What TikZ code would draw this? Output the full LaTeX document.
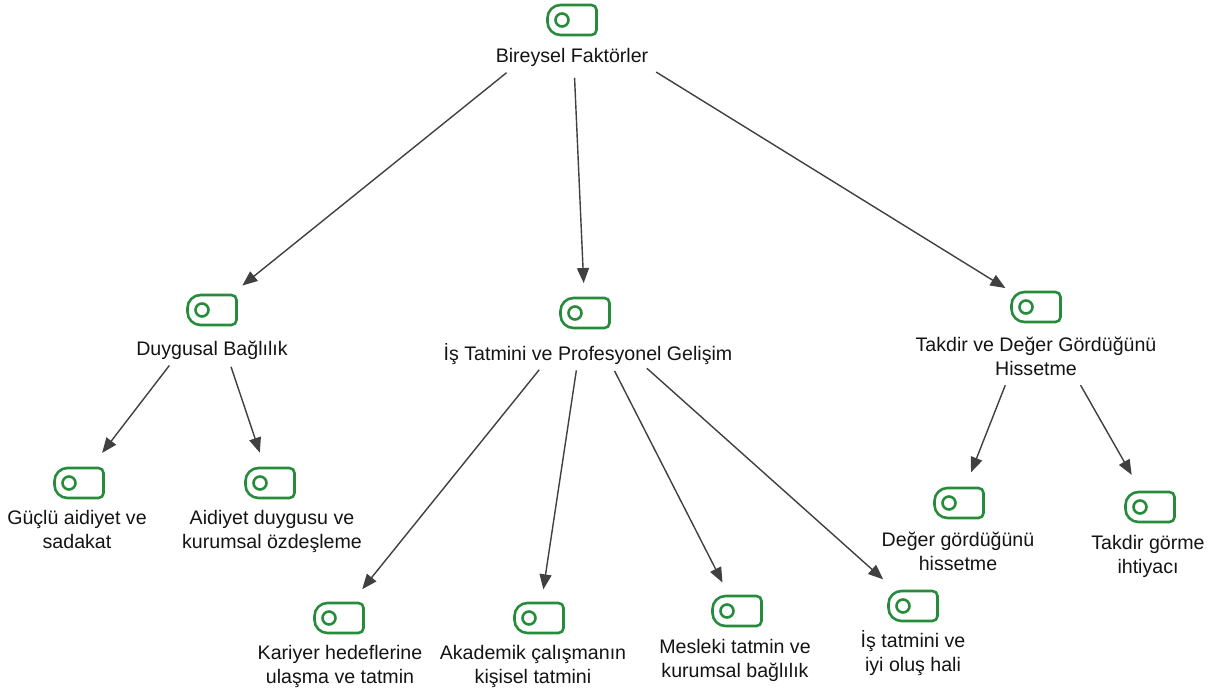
\documentclass[tikz,border=0pt]{standalone}
\usepackage{fontspec}
\setmainfont{Liberation Sans}
\usetikzlibrary{arrows.meta}
\definecolor{iconGreen}{RGB}{38,140,60}
\definecolor{edgeGray}{RGB}{64,64,64}
\definecolor{txt}{RGB}{20,20,20}
\begin{document}
\begin{tikzpicture}[x=1pt,y=-1pt,
  lbl/.style={font=\fontsize{19.6}{23.5}\selectfont, text=txt, align=center, inner sep=0pt, anchor=base},
  icon/.style={minimum width=58pt, minimum height=38pt, inner sep=0pt,
    path picture={
      \begin{scope}[shift={(path picture bounding box.center)}, x=1pt, y=1pt,
                    line width=2.6pt, draw=iconGreen, line join=round]
        \draw (-11.5,-15) -- (19.5,-15) arc[start angle=-90,end angle=0,radius=5]
              -- (24.5,10) arc[start angle=0,end angle=90,radius=5]
              -- (-11.5,15) arc[start angle=90,end angle=180,radius=13]
              -- (-24.5,-2) arc[start angle=180,end angle=270,radius=13] -- cycle;
        \draw (-10,0) circle[radius=6.5];
      \end{scope}}},
  arr/.style={draw=edgeGray, line width=1.4pt, -{Triangle[length=15pt,width=12pt]}}]
\useasboundingbox[fill=white] (0,0) rectangle (1226,695);

% root
\node[icon] (rI) at (572,20) {};
\node[lbl] (rT) at (572,63) {Bireysel Faktörler};

% second level (multi-line labels are placed by the baseline of their last line)
\node[icon] (dI) at (212,310) {};
\node[lbl] (dT) at (212,355) {Duygusal Bağlılık};
\node[icon] (iI) at (585,313) {};
\node[lbl] (iT) at (588,360) {İş Tatmini ve Profesyonel Gelişim};
\node[icon] (tI) at (1036,307) {};
\node[lbl] (tT) at (1036,375) {Takdir ve Değer Gördüğünü\\Hissetme};

% third level
\node[icon] (gI) at (79,483) {};
\node[lbl] (gT) at (77,548) {Güçlü aidiyet ve\\sadakat};
\node[icon] (aI) at (270,483) {};
\node[lbl] (aT) at (272,548) {Aidiyet duygusu ve\\kurumsal özdeşleme};
\node[icon] (kI) at (339,618) {};
\node[lbl] (kT) at (340,683) {Kariyer hedeflerine\\ulaşma ve tatmin};
\node[icon] (akI) at (539,618) {};
\node[lbl] (akT) at (533,683) {Akademik çalışmanın\\kişisel tatmini};
\node[icon] (mI) at (737,611) {};
\node[lbl] (mT) at (735,677) {Mesleki tatmin ve\\kurumsal bağlılık};
\node[icon] (itI) at (913,606) {};
\node[lbl] (itT) at (913,671) {İş tatmini ve\\iyi oluş hali};
\node[icon] (dgI) at (959,503) {};
\node[lbl] (dgT) at (958,570) {Değer gördüğünü\\hissetme};
\node[icon] (tgI) at (1150,507) {};
\node[lbl] (tgT) at (1148,573) {Takdir görme\\ihtiyacı};

% connectors
\draw[arr, shorten <=84pt, shorten >=39pt] (rI.center) -- (dI.center);
\draw[arr, shorten <=58pt, shorten >=30pt] (rI.center) -- (iI.center);
\draw[arr, shorten <=99pt, shorten >=36pt] (rI.center) -- (tI.center);
\draw[arr, shorten <=70pt, shorten >=38pt] (dI.center) -- (gI.center);
\draw[arr, shorten <=60pt, shorten >=32pt] (dI.center) -- (aI.center);
\draw[arr, shorten <=73pt, shorten >=37pt] (iI.center) -- (kI.center);
\draw[arr, shorten <=58pt, shorten >=29pt] (iI.center) -- (akI.center);
\draw[arr, shorten <=65pt, shorten >=32pt] (iI.center) -- (mI.center);
\draw[arr, shorten <=83pt, shorten >=40pt] (iI.center) -- (itI.center);
\draw[arr, shorten <=84pt, shorten >=33pt] (tI.center) -- (dgI.center);
\draw[arr, shorten <=90pt, shorten >=37pt] (tI.center) -- (tgI.center);
\end{tikzpicture}
\end{document}
